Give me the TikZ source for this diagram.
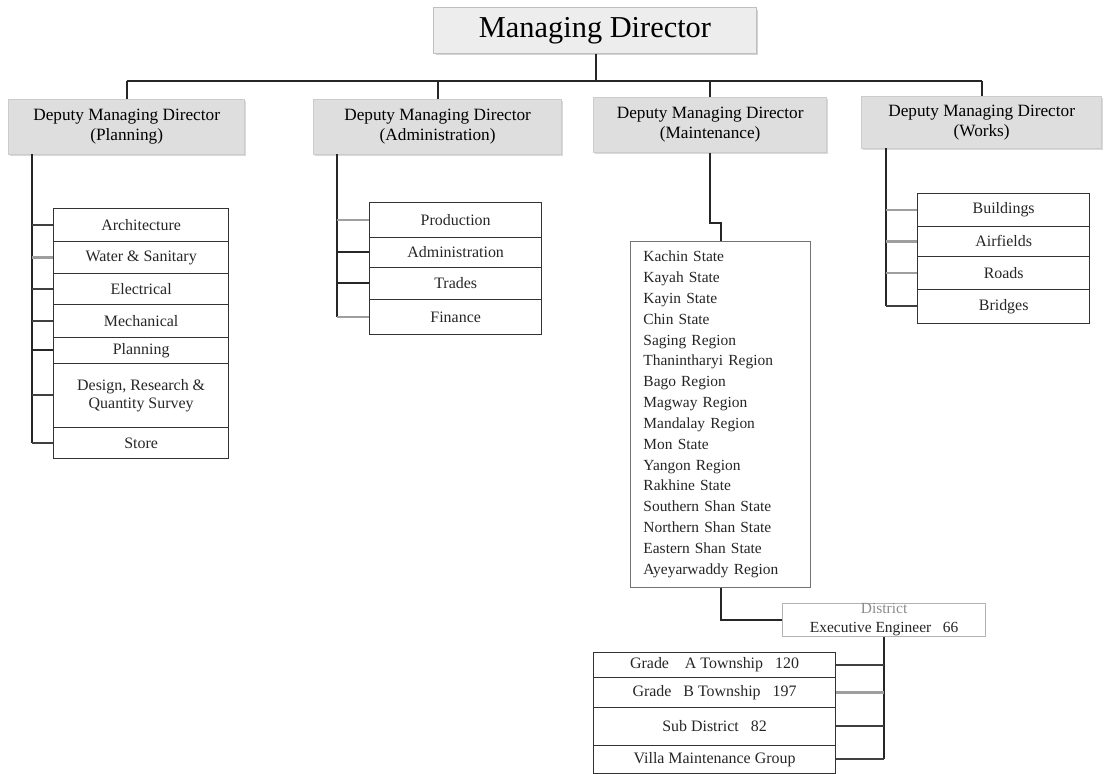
\documentclass[tikz,border=0pt]{standalone}
\usepackage{fontspec}
\setmainfont{Liberation Serif}
\usepackage{xcolor}
\usepackage{tikz}
\usetikzlibrary{shadows}

\begin{document}
\begin{tikzpicture}[x=1bp,y=-1bp,
  head/.style={draw=black!25,fill=black!7,line width=1.2bp,inner sep=0pt,anchor=north west,
    drop shadow={shadow xshift=2bp,shadow yshift=-2bp,opacity=.35},font=\fontsize{30.5}{32}\selectfont},
  dmd/.style={draw=black!20,fill=black!13,line width=1.2bp,inner sep=0pt,anchor=north west,align=center,
    drop shadow={shadow xshift=1.5bp,shadow yshift=-1.5bp,opacity=.3},font=\fontsize{17.3}{20}\selectfont},
  unit/.style={draw=black!80,line width=1bp,fill=white,inner sep=0pt,anchor=north west,align=center,
    text=black!85,font=\fontsize{16}{18}\selectfont},
  bus/.style={line width=2bp,black!85},
  tie/.style={line width=2bp,black!75},
  gtie/.style={line width=2.2bp,black!38}]
  \useasboundingbox (0,0) rectangle (1104,774);
  % top
  \node[head,minimum width=324,minimum height=46] (md) at (433,7) {Managing Director};
  \node[dmd,minimum width=237,minimum height=55] (plan) at (8,99) {Deputy Managing Director\\(Planning)};
  \node[dmd,minimum width=249,minimum height=55] (admin) at (313,99) {Deputy Managing Director\\(Administration)};
  \node[dmd,minimum width=234,minimum height=55] (maint) at (593,97) {Deputy Managing Director\\(Maintenance)};
  \node[dmd,minimum width=241,minimum height=52] (works) at (861,96) {Deputy Managing Director\\(Works)};
  \coordinate (hub) at (596,81);
  \draw[bus] (md.south -| hub) -- (hub);
  \draw[bus] (plan.north |- hub) -- (works.north |- hub);
  \foreach \n in {plan,admin,maint,works}
    \draw[bus] (\n.north) -- (\n.north |- hub);

  % planning
  \node[unit,minimum width=176,minimum height=33] (arch) at (53,208) {Architecture};
  \node[unit,minimum width=176,minimum height=32] (water) at (53,241) {Water \& Sanitary};
  \node[unit,minimum width=176,minimum height=31] (elec) at (53,273) {Electrical};
  \node[unit,minimum width=176,minimum height=33] (mech) at (53,304) {Mechanical};
  \node[unit,minimum width=176,minimum height=26] (planu) at (53,337) {Planning};
  \node[unit,minimum width=176,minimum height=64] (design) at (53,363) {Design, Research \&\\Quantity Survey};
  \node[unit,minimum width=176,minimum height=31] (store) at (53,427) {Store};
  \coordinate (ptop) at (32,154);
  \draw[bus] (ptop) -- (ptop |- store.west);
  \draw[tie] (arch.west) -- (arch.west -| ptop);
  \draw[gtie] (water.west) -- (water.west -| ptop);
  \draw[tie] (elec.west) -- (elec.west -| ptop);
  \draw[tie] (mech.west) -- (mech.west -| ptop);
  \draw[bus] (planu.west) -- (planu.west -| ptop);
  \draw[tie] (design.west) -- (design.west -| ptop);
  \draw[tie] (store.west) -- (store.west -| ptop);

  % administration
  \node[unit,minimum width=173,minimum height=35] (prod) at (369,202) {Production};
  \node[unit,minimum width=173,minimum height=30] (adm) at (369,237) {Administration};
  \node[unit,minimum width=173,minimum height=32] (trades) at (369,267) {Trades};
  \node[unit,minimum width=173,minimum height=35] (fin) at (369,299) {Finance};
  \coordinate (atop) at (337,154);
  \draw[bus] (atop) -- (atop |- fin.west);
  \draw[gtie] (prod.west) -- (prod.west -| atop);
  \draw[bus] (adm.west) -- (adm.west -| atop);
  \draw[bus] (trades.west) -- (trades.west -| atop);
  \draw[gtie] (fin.west) -- (fin.west -| atop);

  % works
  \node[unit,minimum width=173,minimum height=33] (build) at (917,193) {Buildings};
  \node[unit,minimum width=173,minimum height=30] (air) at (917,226) {Airfields};
  \node[unit,minimum width=173,minimum height=33] (roads) at (917,256) {Roads};
  \node[unit,minimum width=173,minimum height=34] (bridges) at (917,289) {Bridges};
  \coordinate (wtop) at (886,148);
  \draw[bus] (wtop) -- (wtop |- bridges.west);
  \draw[gtie] (build.west) -- (build.west -| wtop);
  \draw[gtie] (air.west) -- (air.west -| wtop);
  \draw[gtie] (roads.west) -- (roads.west -| wtop);
  \draw[tie] (bridges.west) -- (bridges.west -| wtop);

  % maintenance
  \node[unit,draw=black!55,minimum width=181,minimum height=347,text width=155,inner xsep=13,align=left,
    font=\fontsize{15.5}{20.9}\selectfont] (states) at (630,241)
    {Kachin State\\Kayah State\\Kayin State\\Chin State\\Saging Region\\Thanintharyi Region\\
     Bago Region\\Magway Region\\Mandalay Region\\Mon State\\Yangon Region\\Rakhine State\\
     Southern Shan State\\Northern Shan State\\Eastern Shan State\\Ayeyarwaddy Region};
  \draw[bus] (maint.south) -- (maint.south |- 0,223) -| (states.north);
  \node[unit,draw=black!30,minimum width=204,minimum height=33,font=\fontsize{15.5}{19}\selectfont] (district) at (782,603)
    {{\color{black!45}District}\\Executive Engineer\ \ \ 66};
  \draw[bus] (states.south) |- (district.west);

  \node[unit,minimum width=243,minimum height=25] (gradea) at (593,652) {Grade\ \ \ \ A Township\ \ \ 120};
  \node[unit,minimum width=243,minimum height=30] (gradeb) at (593,677) {Grade\ \ \ B Township\ \ \ 197};
  \node[unit,minimum width=243,minimum height=38] (subd) at (593,707) {Sub District\ \ \ 82};
  \node[unit,minimum width=243,minimum height=28] (villa) at (593,745) {Villa Maintenance Group};
  \draw[bus] (district.south) -- (district.south |- villa.east);
  \draw[tie] (gradea.east) -- (gradea.east -| district.south);
  \draw[gtie] (gradeb.east) -- (gradeb.east -| district.south);
  \draw[tie] (subd.east) -- (subd.east -| district.south);
  \draw[tie] (villa.east) -- (villa.east -| district.south);
\end{tikzpicture}
\end{document}
